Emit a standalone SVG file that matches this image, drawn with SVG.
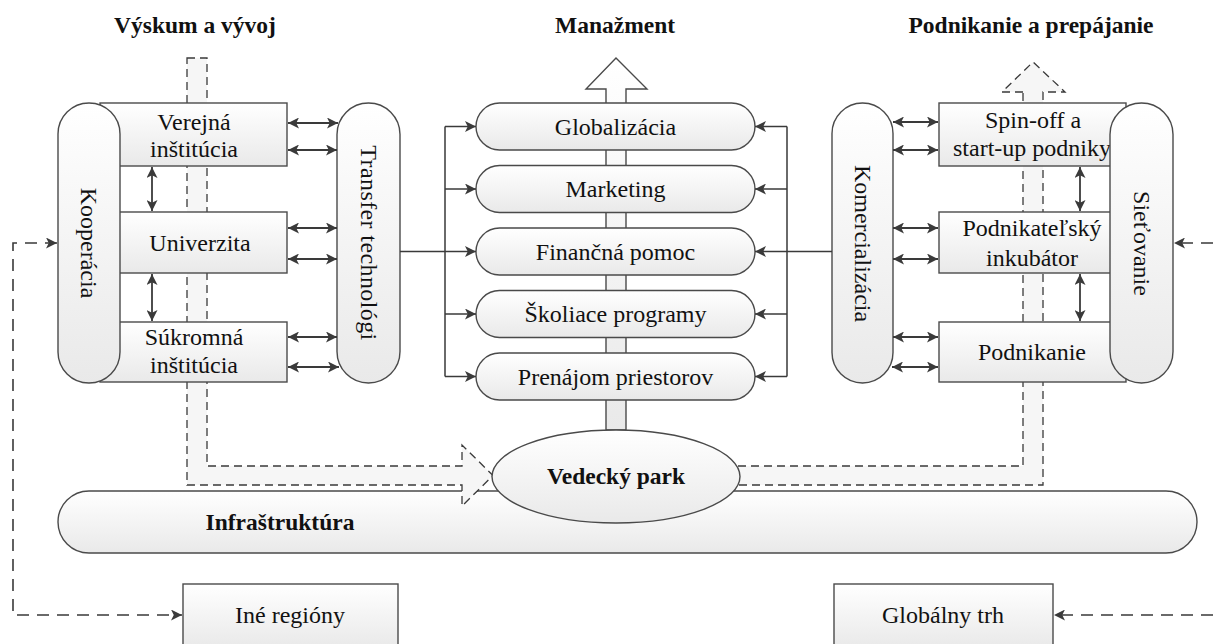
<svg xmlns="http://www.w3.org/2000/svg" width="1213" height="644" viewBox="0 0 1213 644">
  <defs>
    <linearGradient id="shade" x1="0" y1="0" x2="0" y2="1">
      <stop offset="0" stop-color="#ffffff"/>
      <stop offset="1" stop-color="#e9e9e9"/>
    </linearGradient>
    <marker id="ah" viewBox="0 0 10 10" refX="10" refY="5" markerWidth="13" markerHeight="11" markerUnits="userSpaceOnUse" orient="auto-start-reverse">
      <path d="M0,0 L10,5 L0,10 L2.5,5 z" fill="#3a3a3a"/>
    </marker>
  </defs>
  <style>
    .box { fill: url(#shade); stroke: #4a4a4a; stroke-width: 1.4; }
    .pill { fill: url(#shade); stroke: #4a4a4a; stroke-width: 1.4; }
    .lbl { font-family: "Liberation Serif", "Times New Roman", serif; font-size: 24px; fill: #111111; text-anchor: middle; }
    .bold { font-weight: bold; font-size: 23.5px; }
    .wire { fill: none; stroke: #3a3a3a; stroke-width: 1.5; }
    .dbl { fill: none; stroke: #3a3a3a; stroke-width: 1.8; marker-start: url(#ah); marker-end: url(#ah); }
    .one { fill: none; stroke: #3a3a3a; stroke-width: 1.5; marker-end: url(#ah); }
    .feed { fill: none; stroke: #3a3a3a; stroke-width: 1.6; stroke-dasharray: 12 8; }
    .lane { fill: #f6f6f6; stroke: #3a3a3a; stroke-width: 1.3; stroke-dasharray: 8 5; }
  </style>

  <!-- column headings -->
  <text class="lbl bold" x="195" y="33">Výskum a vývoj</text>
  <text class="lbl bold" x="615" y="33">Manažment</text>
  <text class="lbl bold" x="1031" y="33">Podnikanie a prepájanie</text>

  <!-- infrastructure base -->
  <g id="infrastruktura">
    <rect class="pill" x="58" y="491" width="1139" height="62" rx="31"/>
    <text class="lbl bold" x="280" y="530">Infraštruktúra</text>
  </g>

  <!-- management shaft with upward arrow -->
  <g id="manazment-sipka">
    <polygon class="pill" points="606,430 606,89 586,89 616,58 647,89 626,89 626,430"/>
  </g>

  <!-- dashed flow lanes -->
  <g id="lane-vyskum">
    <path class="lane" d="M187,58 L207,58 L207,466 L462,466 L462,445 L493,475.5 L462,506 L462,485 L187,485 Z"/>
  </g>
  <g id="lane-podnikanie">
    <path class="lane" d="M1023,92 L1002,92 L1033,62 L1065,92 L1043,92 L1043,485 L700,485 L700,466 L1023,466 Z"/>
  </g>

  <!-- research side -->
  <g id="verejna-institucia">
    <rect class="box" x="100" y="103" width="187" height="63"/>
    <text class="lbl" x="194" y="130">Verejná</text>
    <text class="lbl" x="194" y="156.5">inštitúcia</text>
  </g>
  <g id="univerzita">
    <rect class="box" x="100" y="212" width="187" height="61"/>
    <text class="lbl" x="200" y="251">Univerzita</text>
  </g>
  <g id="sukromna-institucia">
    <rect class="box" x="100" y="322" width="187" height="60"/>
    <text class="lbl" x="194" y="345">Súkromná</text>
    <text class="lbl" x="194" y="372.5">inštitúcia</text>
  </g>
  <g id="kooperacia">
    <rect class="pill" x="58" y="103" width="62" height="280" rx="31"/>
    <text class="lbl" transform="translate(89,243) rotate(90)" dy="0.33em">Kooperácia</text>
  </g>
  <g id="transfer-technologii">
    <rect class="pill" x="337" y="103" width="63" height="280" rx="31.5"/>
    <text class="lbl" transform="translate(368.5,243) rotate(90)" dy="0.33em" letter-spacing="0.4">Transfer technológi</text>
  </g>

  <!-- management services -->
  <g id="globalizacia">
    <rect class="pill" x="476" y="103" width="279" height="47" rx="23.5"/>
    <text class="lbl" x="615.5" y="134.5">Globalizácia</text>
  </g>
  <g id="marketing">
    <rect class="pill" x="476" y="165.5" width="279" height="47" rx="23.5"/>
    <text class="lbl" x="615.5" y="197">Marketing</text>
  </g>
  <g id="financna-pomoc">
    <rect class="pill" x="476" y="228" width="279" height="47" rx="23.5"/>
    <text class="lbl" x="615.5" y="259.5">Finančná pomoc</text>
  </g>
  <g id="skoliace-programy">
    <rect class="pill" x="476" y="290.5" width="279" height="47" rx="23.5"/>
    <text class="lbl" x="615.5" y="322">Školiace programy</text>
  </g>
  <g id="prenajom-priestorov">
    <rect class="pill" x="476" y="353" width="279" height="47" rx="23.5"/>
    <text class="lbl" x="615.5" y="384.5">Prenájom priestorov</text>
  </g>

  <!-- business side -->
  <g id="spin-off">
    <rect class="box" x="939" y="103" width="187" height="63"/>
    <text class="lbl" x="1033" y="128">Spin-off a</text>
    <text class="lbl" x="1032" y="156">start-up podniky</text>
  </g>
  <g id="inkubator">
    <rect class="box" x="939" y="212" width="187" height="61"/>
    <text class="lbl" x="1032" y="236">Podnikateľský</text>
    <text class="lbl" x="1032" y="266">inkubátor</text>
  </g>
  <g id="podnikanie">
    <rect class="box" x="939" y="322" width="187" height="60"/>
    <text class="lbl" x="1032" y="360">Podnikanie</text>
  </g>
  <g id="komercializacia">
    <rect class="pill" x="832" y="103" width="61" height="280" rx="30.5"/>
    <text class="lbl" transform="translate(862.5,243.5) rotate(90)" dy="0.33em">Komercializácia</text>
  </g>
  <g id="sietovanie">
    <rect class="pill" x="1110" y="103" width="63" height="280" rx="31.5"/>
    <text class="lbl" transform="translate(1141.5,243.5) rotate(90)" dy="0.33em">Sieťovanie</text>
  </g>

  <!-- science park -->
  <g id="vedecky-park">
    <ellipse class="pill" cx="616" cy="476.5" rx="124" ry="46.5"/>
    <text class="lbl bold" x="616" y="484">Vedecký park</text>
  </g>

  <!-- outside regions -->
  <g id="ine-regiony">
    <rect class="box" x="183" y="584" width="215" height="64"/>
    <text class="lbl" x="290" y="623">Iné regióny</text>
  </g>
  <g id="globalny-trh">
    <rect class="box" x="834" y="584" width="219" height="64"/>
    <text class="lbl" x="943" y="623">Globálny trh</text>
  </g>

  <!-- connectors -->
  <g id="connectors">
    <!-- research institutions to technology transfer -->
    <line class="dbl" x1="288" y1="123" x2="338" y2="123"/>
    <line class="dbl" x1="288" y1="150" x2="337" y2="150"/>
    <line class="dbl" x1="288" y1="228" x2="337" y2="228"/>
    <line class="dbl" x1="288" y1="259" x2="337" y2="259"/>
    <line class="dbl" x1="288" y1="337" x2="337" y2="337"/>
    <line class="dbl" x1="288" y1="367" x2="339" y2="367"/>
    <line class="dbl" x1="152" y1="167" x2="152" y2="211"/>
    <line class="dbl" x1="152" y1="274" x2="152" y2="321"/>

    <!-- business units to commercialisation -->
    <line class="dbl" x1="893" y1="122" x2="938" y2="122"/>
    <line class="dbl" x1="893" y1="150" x2="938" y2="150"/>
    <line class="dbl" x1="893" y1="228" x2="938" y2="228"/>
    <line class="dbl" x1="893" y1="259" x2="938" y2="259"/>
    <line class="dbl" x1="893" y1="337" x2="938" y2="337"/>
    <line class="dbl" x1="892" y1="367" x2="938" y2="367"/>
    <line class="dbl" x1="1080" y1="167" x2="1080" y2="211"/>
    <line class="dbl" x1="1080" y1="274" x2="1080" y2="321"/>

    <!-- transfer feeds the management services -->
    <path class="wire" d="M400,251.5 L445,251.5 M445,126.5 L445,376.5"/>
    <line class="one" x1="445" y1="126.5" x2="476" y2="126.5"/>
    <line class="one" x1="445" y1="189" x2="476" y2="189"/>
    <line class="one" x1="445" y1="251.5" x2="476" y2="251.5"/>
    <line class="one" x1="445" y1="314" x2="476" y2="314"/>
    <line class="one" x1="445" y1="376.5" x2="476" y2="376.5"/>

    <!-- commercialisation feeds the management services -->
    <path class="wire" d="M832,251.5 L787,251.5 M787,126.5 L787,376.5"/>
    <line class="one" x1="787" y1="126.5" x2="755" y2="126.5"/>
    <line class="one" x1="787" y1="189" x2="755" y2="189"/>
    <line class="one" x1="787" y1="251.5" x2="755" y2="251.5"/>
    <line class="one" x1="787" y1="314" x2="755" y2="314"/>
    <line class="one" x1="787" y1="376.5" x2="755" y2="376.5"/>

    <!-- links with other regions and the global market -->
    <path class="feed" d="M57,243 L13,243 L13,615 L182,615" marker-start="url(#ah)" marker-end="url(#ah)"/>
    <path class="feed" d="M1213,243 L1174,243" marker-end="url(#ah)"/>
    <path class="feed" d="M1213,615 L1054,615" marker-end="url(#ah)"/>
  </g>
</svg>
